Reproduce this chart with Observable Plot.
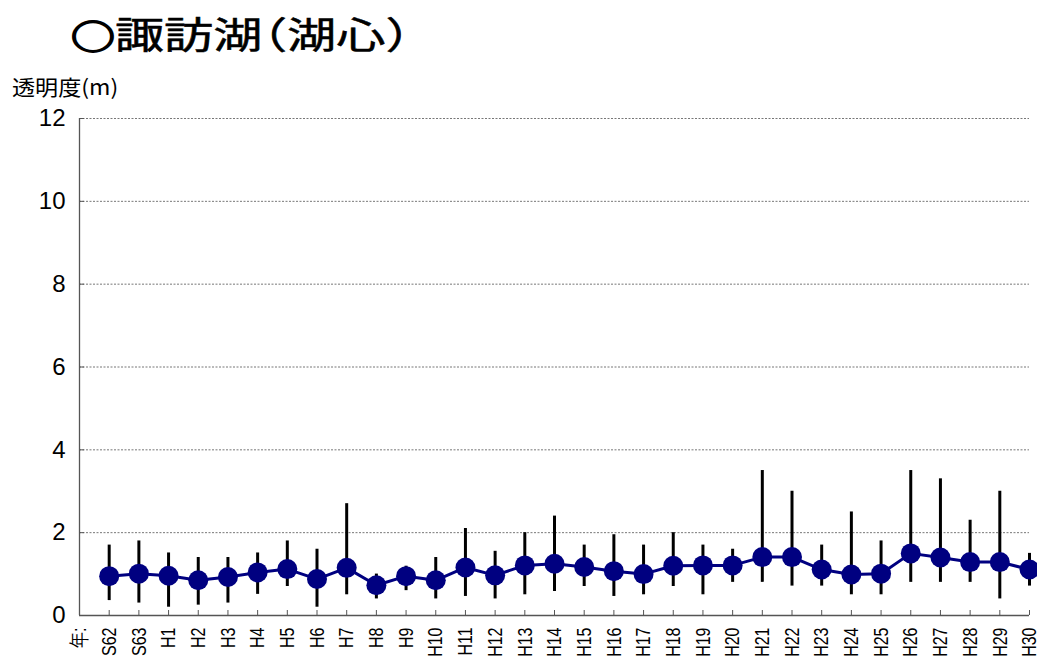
<!DOCTYPE html>
<html><head><meta charset="utf-8">
<script src="https://cdn.jsdelivr.net/npm/d3@7"></script>
<script src="https://cdn.jsdelivr.net/npm/@observablehq/plot@0.6"></script>
<style>
body{margin:0;background:#fff;}
#wrap{position:relative;width:1037px;height:658px;overflow:hidden;background:#fff;}
#title{position:absolute;left:71px;top:15px;font-family:"Noto Sans CJK JP";font-size:37px;font-weight:400;-webkit-text-stroke:0.5px #000;line-height:1;white-space:nowrap;transform:scaleX(1.33);transform-origin:0 0;color:#000;font-feature-settings:"halt";}
#title .c{font-size:33px;-webkit-text-stroke:1.8px #000;}
#ylab{position:absolute;left:12px;top:76px;font-family:"Noto Sans CJK JP";font-size:21px;line-height:1;white-space:nowrap;transform:scaleX(1.1);transform-origin:0 0;color:#000;}
#chart{position:absolute;left:0;top:100px;}
</style>
</head><body>
<div id="wrap">
<div id="title"><span class="c">○</span>諏訪湖（湖心）</div>
<div id="ylab">透明度(m)</div>
<div id="chart"></div>
</div>
<script>
const years = ["S62","S63","H1","H2","H3","H4","H5","H6","H7","H8","H9","H10","H11","H12","H13","H14","H15","H16","H17","H18","H19","H20","H21","H22","H23","H24","H25","H26","H27","H28","H29","H30"];
const meanVals = [0.95,1.01,0.96,0.85,0.93,1.04,1.12,0.88,1.15,0.73,0.95,0.85,1.16,0.97,1.21,1.25,1.17,1.07,1.00,1.20,1.21,1.21,1.41,1.41,1.11,0.99,1.01,1.50,1.40,1.29,1.29,1.11];
const maxVals = [1.70,1.80,1.51,1.40,1.40,1.51,1.80,1.60,2.70,1.00,1.19,1.40,2.10,1.55,2.00,2.40,1.70,1.95,1.70,2.00,1.70,1.60,3.50,3.00,1.70,2.50,1.80,3.50,3.30,2.30,3.00,1.50];
const minVals = [0.36,0.30,0.20,0.25,0.30,0.51,0.70,0.20,0.50,0.40,0.60,0.40,0.46,0.40,0.50,0.58,0.70,0.46,0.50,0.70,0.50,0.80,0.80,0.71,0.71,0.50,0.50,0.80,0.80,0.80,0.40,0.71];
const axisLead = "年:";
const yTicks = [0,2,4,6,8,10,12];

const data = years.map((y,i)=>({year:y, mean:meanVals[i], max:maxVals[i], min:minVals[i]}));

const chart = Plot.plot({
  width:1037, height:558,
  marginTop:18, marginBottom:43, marginLeft:79, marginRight:8,
  style:{background:"#fff", color:"#000", overflow:"visible"},
  x:{type:"point", domain:[axisLead, ...years], padding:0, round:false},
  y:{domain:[0,12]},
  marks:[
    Plot.gridY(yTicks.slice(1), {stroke:"#777", strokeOpacity:1, strokeDasharray:"2,1.5"}),
    Plot.ruleY([0], {stroke:"#555", strokeWidth:1.3}),
    Plot.ruleX([axisLead], {stroke:"#555", strokeWidth:1.3}),
    Plot.axisY({ticks:yTicks, tickSize:-5, tickPadding:19, fontSize:24, fontFamily:"Liberation Sans Narrow, Liberation Sans", stroke:"#555", fill:"#000", label:null}),
    Plot.axisX({tickSize:-5, tickPadding:17, tickRotate:-90, fontSize:21, fontFamily:"Liberation Sans", stroke:"#555", fill:"#000", label:null}),
    Plot.ruleX(data, {x:"year", y1:"min", y2:"max", stroke:"#000", strokeWidth:3}),
    Plot.line(data, {x:"year", y:"mean", stroke:"#000080", strokeWidth:3}),
    Plot.dot(data, {x:"year", y:"mean", r:10, fill:"#000080"})
  ]
});
// narrow the rotated x tick labels along their reading direction
chart.querySelectorAll('g[aria-label="x-axis tick label"] text').forEach(t => {
  t.setAttribute("transform", (t.getAttribute("transform") || "") + " scale(0.76,1)");
});
document.getElementById("chart").appendChild(chart);
</script>
</body></html>
